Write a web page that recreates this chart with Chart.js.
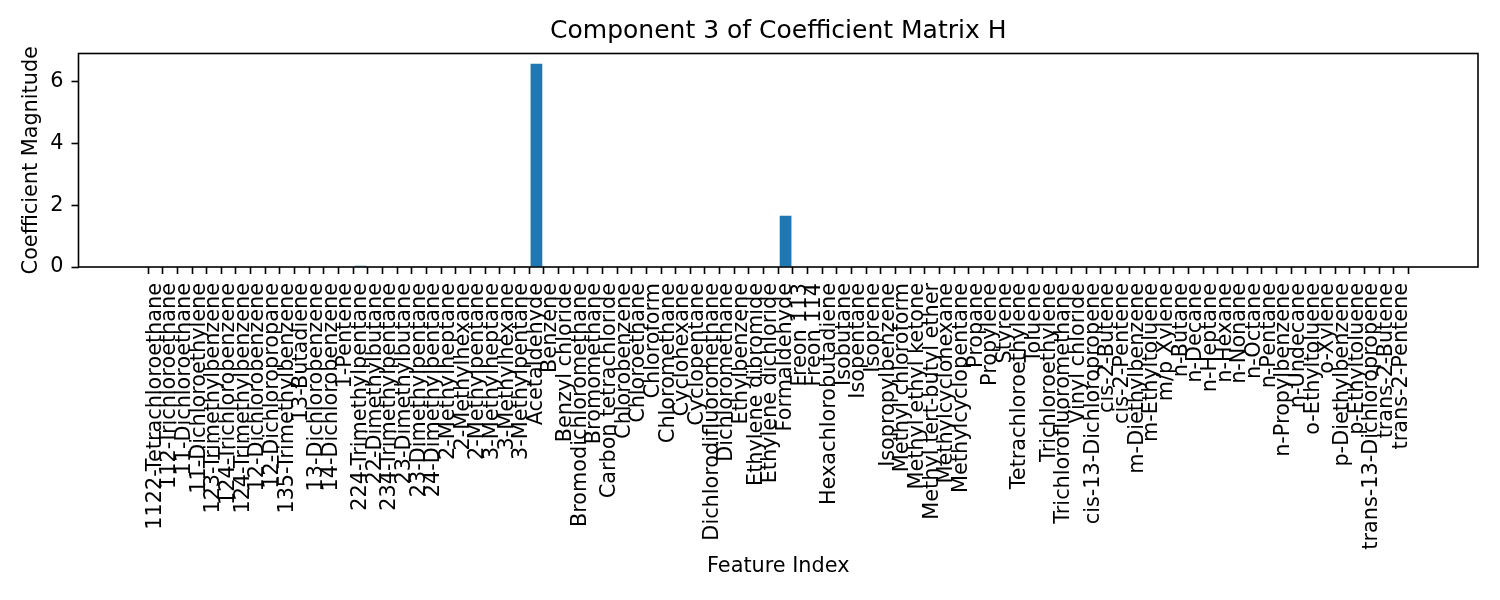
<!DOCTYPE html>
<html>
<head>
<meta charset="utf-8">
<title>Component 3 of Coefficient Matrix H</title>
<script src="https://cdn.jsdelivr.net/npm/chart.js@4.4.1/dist/chart.umd.min.js"></script>
<style>
    html, body { margin: 0; padding: 0; background: #fff; }
    canvas { display: block; }
</style>
</head>
<body>
<canvas id="coefChart" width="1500" height="600"></canvas>
<script>
// Feature names (x axis categories)
const features = [
    '1122-Tetrachloroethane', '112-Trichloroethane', '11-Dichloroethane', '11-Dichloroethylene',
    '123-Trimethylbenzene', '124-Trichlorobenzene', '124-Trimethylbenzene', '12-Dichlorobenzene',
    '12-Dichloropropane', '135-Trimethylbenzene', '13-Butadiene', '13-Dichlorobenzene',
    '14-Dichlorobenzene', '1-Pentene', '224-Trimethylpentane', '22-Dimethylbutane',
    '234-Trimethylpentane', '23-Dimethylbutane', '23-Dimethylpentane', '24-Dimethylpentane',
    '2-Methylheptane', '2-Methylhexane', '2-Methylpentane', '3-Methylheptane',
    '3-Methylhexane', '3-Methylpentane', 'Acetaldehyde', 'Benzene',
    'Benzyl chloride', 'Bromodichloromethane', 'Bromomethane', 'Carbon tetrachloride',
    'Chlorobenzene', 'Chloroethane', 'Chloroform', 'Chloromethane',
    'Cyclohexane', 'Cyclopentane', 'Dichlorodifluoromethane', 'Dichloromethane',
    'Ethylbenzene', 'Ethylene dibromide', 'Ethylene dichloride', 'Formaldehyde',
    'Freon 113', 'Freon 114', 'Hexachlorobutadiene', 'Isobutane',
    'Isopentane', 'Isoprene', 'Isopropylbenzene', 'Methyl chloroform',
    'Methyl ethyl ketone', 'Methyl tert-butyl ether', 'Methylcyclohexane', 'Methylcyclopentane',
    'Propane', 'Propylene', 'Styrene', 'Tetrachloroethylene',
    'Toluene', 'Trichloroethylene', 'Trichlorofluoromethane', 'Vinyl chloride',
    'cis-13-Dichloropropene', 'cis-2-Butene', 'cis-2-Pentene', 'm-Diethylbenzene',
    'm-Ethyltoluene', 'm/p Xylene', 'n-Butane', 'n-Decane',
    'n-Heptane', 'n-Hexane', 'n-Nonane', 'n-Octane',
    'n-Pentane', 'n-Propylbenzene', 'n-Undecane', 'o-Ethyltoluene',
    'o-Xylene', 'p-Diethylbenzene', 'p-Ethyltoluene', 'trans-13-Dichloropropene',
    'trans-2-Butene', 'trans-2-Pentene'
];

// Coefficient magnitudes of component 3, one per feature
const magnitudes = [
    0, 0, 0, 0, 0, 0, 0, 0, 0, 0,
    0, 0, 0, 0, 0.04, 0, 0, 0.01, 0.01, 0,
    0, 0, 0.01, 0, 0, 0.01, 6.57, 0, 0, 0,
    0, 0, 0, 0, 0, 0, 0, 0, 0, 0,
    0, 0, 0, 1.66, 0, 0, 0, 0, 0.01, 0,
    0, 0, 0, 0, 0, 0, 0, 0, 0, 0,
    0, 0, 0, 0, 0, 0, 0, 0, 0.01, 0,
    0, 0.01, 0, 0.01, 0, 0, 0, 0, 0, 0,
    0, 0, 0.01, 0, 0, 0
];

// Y axis tick labels
const yTicks = [0, 2, 4, 6];

// Axis limits the way matplotlib autoscales a bar plot (5% margins)
const span = features.length - 1 + 0.8;
const xMin = -0.4 - 0.05 * span;
const xMax = features.length - 1 + 0.4 + 0.05 * span;
const yMax = Math.max(...magnitudes) * 1.05;

const font = 'DejaVu Sans';

// Draw the box around the plot area
const framePlugin = {
    id: 'frame',
    afterDraw(chart) {
        const { ctx, chartArea: a } = chart;
        ctx.save();
        ctx.strokeStyle = '#000';
        ctx.lineWidth = 1.6;
        ctx.strokeRect(a.left, a.top, a.right - a.left, a.bottom - a.top);
        ctx.restore();
    }
};

const tickMarks = {
    display: true,
    drawOnChartArea: false,
    drawTicks: true,
    tickLength: 7,
    tickWidth: 1.6,
    tickColor: '#000'
};

const ctx = document.getElementById('coefChart').getContext('2d');
new Chart(ctx, {
    type: 'bar',
    data: {
        datasets: [{
            data: magnitudes.map((v, i) => ({ x: i, y: v })),
            backgroundColor: '#1f77b4',
            borderWidth: 0,
            categoryPercentage: 1,
            barPercentage: 0.8
        }]
    },
    options: {
        responsive: false,
        animation: false,
        devicePixelRatio: 1,
        layout: { padding: { left: 0, right: 22, top: 0, bottom: 0 } },
        plugins: {
            legend: { display: false },
            tooltip: { enabled: false },
            title: {
                display: true,
                fullSize: false,
                text: 'Component 3 of Coefficient Matrix H',
                color: '#000',
                font: { family: font, size: 25, weight: 'normal' },
                padding: { top: 16, bottom: 7.5 }
            }
        },
        scales: {
            x: {
                type: 'linear',
                min: xMin,
                max: xMax,
                afterBuildTicks: axis => { axis.ticks = features.map((_, i) => ({ value: i })); },
                afterFit: axis => { axis.height = 333; },
                ticks: {
                    autoSkip: false,
                    minRotation: 90,
                    maxRotation: 90,
                    padding: 9,
                    color: '#000',
                    font: { family: font, size: 20.8 },
                    callback: value => features[value]
                },
                grid: tickMarks,
                border: { display: false },
                title: {
                    display: true,
                    text: 'Feature Index',
                    color: '#000',
                    font: { family: font, size: 20.8 },
                    padding: { top: 4, bottom: 21 }
                }
            },
            y: {
                min: 0,
                max: yMax,
                afterBuildTicks: axis => { axis.ticks = yTicks.map(v => ({ value: v })); },
                afterFit: axis => { axis.width = 78.5; },
                ticks: {
                    padding: 8,
                    color: '#000',
                    font: { family: font, size: 20.8 }
                },
                grid: tickMarks,
                border: { display: false },
                title: {
                    display: true,
                    text: 'Coefficient Magnitude',
                    color: '#000',
                    font: { family: font, size: 20.8 },
                    padding: { top: 19, bottom: 4 }
                }
            }
        }
    },
    plugins: [framePlugin]
});
</script>
</body>
</html>
